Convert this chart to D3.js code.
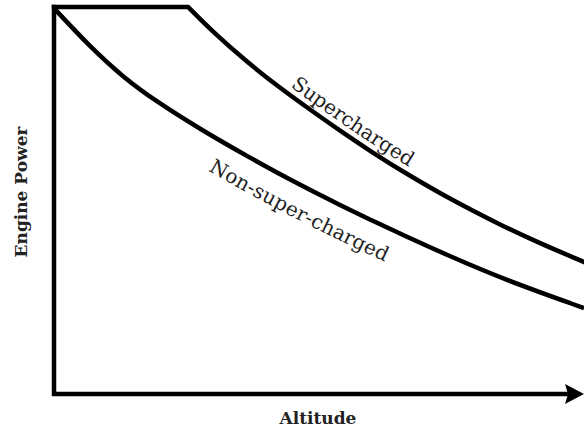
<!DOCTYPE html>
<html>
<head>
<meta charset="utf-8">
<script src="https://cdn.jsdelivr.net/npm/d3@7"></script>
<style>
  html, body { margin: 0; padding: 0; background: #fff; }
  svg { display: block; }
</style>
</head>
<body>
<script>
// Relative altitude (0–100) and relative engine power (0–100)
const nonSuperAltitude = [0, 6.8, 13.0, 19.4, 27.5, 37.0, 46.4, 54.0, 60.2, 66.6, 74.2, 84.7, 100];
const nonSuperPower    = [99.7, 89.7, 81.9, 75.5, 68.5, 61.0, 54.0, 48.8, 44.7, 40.6, 35.9, 29.7, 22.2];

// supercharged engine: full power held up to the critical altitude, then falling
const superFlatAltitude = [0, 25.3];
const superFlatPower    = [100, 100];
const superAltitude = [25.3, 30.0, 36.4, 42.6, 48.9, 54.0, 60.2, 66.6, 72.8, 79.1, 84.7, 91.1, 100];
const superPower    = [100, 93.5, 85.8, 79.1, 72.9, 68.0, 62.3, 56.8, 51.9, 47.3, 43.4, 39.3, 34.1];

const xLabel = "Altitude";
const yLabel = "Engine Power";
// curve labels, kept in pieces so each piece sits on the curve on its own
const superLabelParts = ["Super", "charged"];
const nonSuperLabelParts = ["Non-", "super-", "charged"];

const W = 584, H = 429;
const svg = d3.select("body").append("svg").attr("width", W).attr("height", H);

const x = d3.scaleLinear().domain([0, 100]).range([54, 584]);
const y = d3.scaleLinear().domain([0, 100]).range([394, 7]);

const smooth = d3.line().x(d => x(d[0])).y(d => y(d[1])).curve(d3.curveBasis);
const straight = d3.line().x(d => x(d[0])).y(d => y(d[1]));

const nonSuper = d3.zip(nonSuperAltitude, nonSuperPower);
const superFlat = d3.zip(superFlatAltitude, superFlatPower);
const superFall = d3.zip(superAltitude, superPower);

const stroke = 4.5;
const labelFont = "'DejaVu Serif', serif";
const labelSize = 20;

// axes
svg.append("path")
  .attr("d", `M${x(0)},${y(100)} L${x(0)},${y(0)} L${x(100) - 14},${y(0)}`)
  .attr("fill", "none").attr("stroke", "#000").attr("stroke-width", stroke)
  .attr("stroke-linejoin", "miter").attr("stroke-linecap", "square");

// arrowhead on the altitude axis
const tipX = x(100), axY = y(0);
svg.append("path")
  .attr("d", `M${tipX},${axY} L${tipX - 19},${axY - 10} L${tipX - 16},${axY} L${tipX - 19},${axY + 10} Z`)
  .attr("fill", "#000");

// power curves
svg.append("path").attr("id", "curve-non").datum(nonSuper)
  .attr("d", smooth).attr("fill", "none").attr("stroke", "#000").attr("stroke-width", stroke);

svg.append("path").attr("id", "curve-super")
  .attr("d", straight(superFlat) + smooth(superFall).replace(/^M/, "L"))
  .attr("fill", "none").attr("stroke", "#000").attr("stroke-width", stroke)
  .attr("stroke-linejoin", "miter").attr("stroke-linecap", "square");

// width of a string in the label font
const probe = svg.append("text")
  .attr("font-family", labelFont).attr("font-size", labelSize)
  .attr("visibility", "hidden");
function textWidth(s) {
  probe.text(s);
  return probe.node().getComputedTextLength();
}

// lay a label along a curve, piece after piece
function curveLabel(parts, pathId, startOffset, dy) {
  let prefix = "";
  parts.forEach(part => {
    const offset = startOffset + (prefix ? textWidth(prefix) : 0);
    svg.append("text")
      .attr("font-family", labelFont).attr("font-size", labelSize).attr("fill", "#222")
      .attr("dy", dy)
      .append("textPath").attr("href", "#" + pathId).attr("startOffset", offset)
      .text(part);
    prefix += part;
  });
}

curveLabel(superLabelParts, "curve-super", 264, -7);
curveLabel(nonSuperLabelParts, "curve-non", 218, 32);
probe.remove();

// axis titles
svg.append("text")
  .attr("x", 318).attr("y", 424)
  .attr("text-anchor", "middle")
  .attr("font-family", labelFont).attr("font-weight", "bold").attr("font-size", 17)
  .attr("fill", "#222")
  .text(xLabel);

svg.append("text")
  .attr("transform", `translate(27,192) rotate(-90)`)
  .attr("text-anchor", "middle")
  .attr("font-family", labelFont).attr("font-weight", "bold").attr("font-size", 17)
  .attr("fill", "#222")
  .text(yLabel);
</script>
</body>
</html>
